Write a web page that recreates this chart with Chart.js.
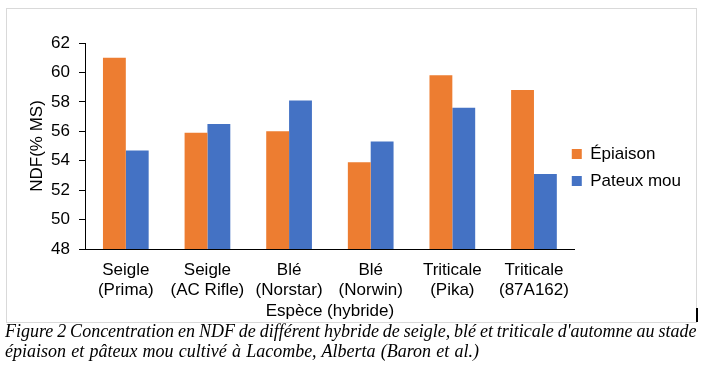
<!DOCTYPE html>
<html>
<head>
<meta charset="utf-8">
<script src="https://cdn.jsdelivr.net/npm/chart.js@4/dist/chart.umd.min.js"></script>
<style>
  html, body { margin: 0; padding: 0; background: #fff; width: 704px; height: 371px; overflow: hidden; }
  #frame { position: absolute; left: 6px; top: 8px; width: 689px; height: 313px; border: 1px solid #d9d9d9; }
  #wrap { position: absolute; left: 6px; top: 8px; width: 690px; height: 314px; }
  #cursor { position: absolute; left: 696px; top: 308px; width: 2px; height: 14px; background: #000; }
  .cap { position: absolute; left: 5px; font-family: "Liberation Serif", "Times New Roman", serif; font-style: italic; font-size: 18px; line-height: 20px; white-space: nowrap; color: #000; }
</style>
</head>
<body>
<div id="frame"></div>
<div id="wrap"><canvas id="c" width="690" height="314"></canvas></div>
<div id="cursor"></div>
<div class="cap" style="top:321px; word-spacing:-0.6px;">Figure 2 Concentration en NDF de différent hybride de seigle, blé et triticale d'automne au stade</div>
<div class="cap" style="top:341px; word-spacing:0.7px;">épiaison et pâteux mou cultivé à Lacombe, Alberta (Baron et al.)</div>
<script>
const categories = [["Seigle","(Prima)"],["Seigle","(AC Rifle)"],["Blé","(Norstar)"],["Blé","(Norwin)"],["Triticale","(Pika)"],["Triticale","(87A162)"]];
const seriesNames = ["Épiaison", "Pateux mou"];
const epiaison = [61.0, 55.9, 56.0, 53.9, 59.8, 58.8];
const pateux = [54.7, 56.5, 58.1, 55.3, 57.6, 53.1];
const yMin = 48, yMax = 62, yStep = 2;
const xTitle = "Espèce (hybride)";
const yTitle = "NDF(% MS)";

const FONT = { family: "'Liberation Sans', Arial, sans-serif", size: 17 };

// Let the legend sit slightly over the right end of the plot area, as in the original.
const legendShift = {
  id: 'legendShift',
  beforeLayout(chart) {
    const lg = chart.legend;
    if (lg && !lg._patched) {
      const orig = lg.fit.bind(lg);
      lg.fit = function () { orig(); this.width -= 14; };
      lg._patched = true;
    }
  },
  afterLayout(chart) {
    const lg = chart.legend;
    if (lg) {
      lg.left -= 13; lg.width += 13;
      lg.top -= 15; lg.bottom -= 15;
    }
  }
};

new Chart(document.getElementById('c'), {
  type: 'bar',
  data: {
    labels: categories,
    datasets: [
      { label: seriesNames[0], data: epiaison, backgroundColor: '#ED7D31', categoryPercentage: 0.56, barPercentage: 1.0 },
      { label: seriesNames[1], data: pateux, backgroundColor: '#4472C4', categoryPercentage: 0.56, barPercentage: 1.0 }
    ]
  },
  plugins: [legendShift],
  options: {
    responsive: false,
    animation: false,
    devicePixelRatio: 1,
    layout: { padding: { left: 21, top: 35, right: 6, bottom: 0 } },
    plugins: {
      legend: {
        position: 'right',
        labels: { boxWidth: 10, boxHeight: 10, padding: 10, color: '#000', font: FONT }
      },
      tooltip: { enabled: false }
    },
    scales: {
      x: {
        afterFit(scale) { scale.height = 73; },
        grid: { display: false, drawTicks: false },
        border: { display: true, color: '#000', width: 1 },
        ticks: { color: '#000', font: FONT, padding: 11, maxRotation: 0, autoSkip: false },
        title: { display: true, text: xTitle, color: '#000', font: FONT, padding: { top: 0, bottom: 0 } }
      },
      y: {
        min: yMin, max: yMax,
        afterFit(scale) { scale.width = 58; },
        grid: { drawOnChartArea: false, drawTicks: true, tickLength: 6, color: '#000' },
        border: { display: true, color: '#000', width: 1 },
        ticks: { stepSize: yStep, color: '#000', font: FONT, padding: 9 },
        title: { display: true, text: yTitle, color: '#000', font: FONT, padding: 0 }
      }
    }
  }
});
</script>
</body>
</html>
